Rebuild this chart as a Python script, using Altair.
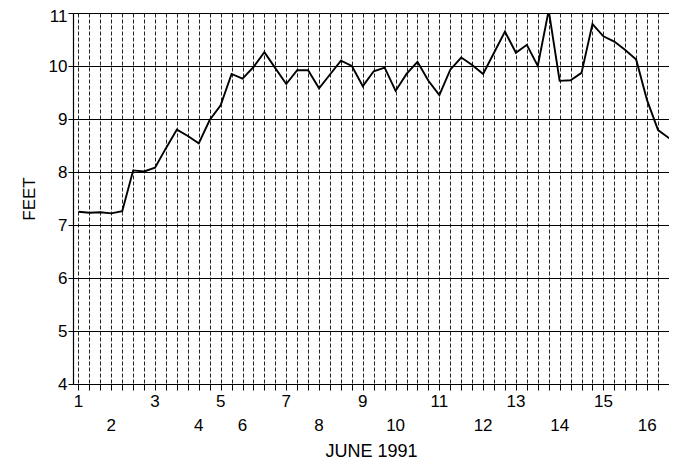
import altair as alt
import pandas as pd

# sample index (regular sampling, one per vertical grid line)
sample = list(range(56))
feet = [7.25, 7.23, 7.24, 7.22, 7.26, 8.03, 8.01, 8.08, 8.45, 8.80,
        8.68, 8.54, 8.98, 9.26, 9.85, 9.76, 9.98, 10.26, 9.96, 9.66,
        9.92, 9.92, 9.58, 9.84, 10.10, 10.00, 9.62, 9.90, 9.97, 9.53,
        9.85, 10.08, 9.72, 9.45, 9.93, 10.16, 10.02, 9.85, 10.25, 10.65,
        10.25, 10.40, 10.00, 11.05, 9.72, 9.73, 9.87, 10.79, 10.56, 10.46,
        10.30, 10.12, 9.35, 8.79, 8.64, 8.66]

day_labels = [str(d) for d in range(1, 17)]
day_pos = [0, 3, 7, 11, 13, 15, 19, 22, 26, 29, 33, 37, 40, 44, 48, 52]
day_row = [1 if d % 2 else 2 for d in range(1, 17)]

y_ticks = [4, 5, 6, 7, 8, 9, 10, 11]

FONT = "Liberation Sans"

df = pd.DataFrame({"i": sample, "v": feet})
ldf = pd.DataFrame({"label": day_labels, "i": day_pos, "row": day_row})

x_scale = alt.Scale(domain=[-0.5, 54], nice=False, zero=False)
y_scale = alt.Scale(domain=[4, 11], nice=False, zero=False)

x_axis = alt.Axis(values=list(range(55)), labels=False, title="JUNE 1991",
                  grid=True, gridDash=[4, 2], gridColor="#222222", gridWidth=1,
                  ticks=True, tickSize=6, tickColor="black", tickWidth=1,
                  domainColor="black", domainWidth=1.2,
                  titleFont=FONT, titleFontSize=18, titleFontWeight="normal",
                  titleColor="black", titlePadding=52)

line = alt.Chart(df).mark_line(color="black", strokeWidth=1.9, clip=True).encode(
    x=alt.X("i:Q", scale=x_scale, axis=x_axis),
    y=alt.Y("v:Q", scale=y_scale,
            axis=alt.Axis(values=y_ticks, grid=True, gridColor="black", gridWidth=1.2,
                          tickSize=5, tickColor="black", domainColor="black", domainWidth=1.2,
                          labelFont=FONT, labelFontSize=17, labelColor="black", labelPadding=1,
                          labelOffset={"condition": {"test": "datum.value == 11", "value": 3},
                                       "value": 0},
                          title="FEET", titleFont=FONT, titleFontSize=17,
                          titleFontWeight="normal", titleColor="black", titlePadding=10)),
)

labels = alt.Chart(ldf).mark_text(font=FONT, fontSize=17, color="black",
                                   align="center", baseline="middle").encode(
    x=alt.X("i:Q", scale=x_scale, axis=x_axis),
    y=alt.Y("row:Q", scale=alt.Scale(domain=[1, 2], range=[389, 412.5]), axis=None),
    text="label:N",
)

chart = alt.layer(line, labels).resolve_scale(y="independent").properties(
    width=596, height=371,
    padding={"left": 65, "top": 5, "right": 0, "bottom": 76},
    autosize=alt.AutoSizeParams(type="none"),
).configure_view(stroke=None).configure(background="white")

chart.save("out.html", embed_options={"renderer": "svg", "actions": False})
